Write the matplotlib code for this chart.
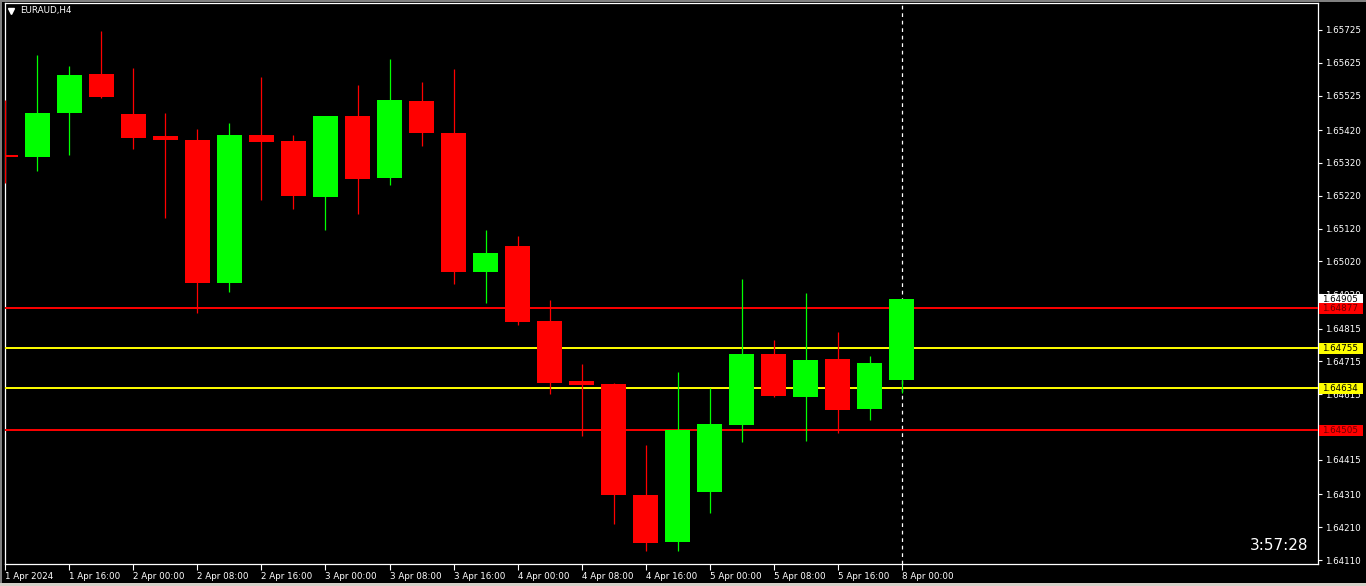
import matplotlib
matplotlib.use("Agg")
import matplotlib.pyplot as plt
from matplotlib.patches import Rectangle
from matplotlib.lines import Line2D
from matplotlib.transforms import blended_transform_factory
from matplotlib.ticker import FixedLocator, FixedFormatter

# ---- data (EURAUD, H4) ----
opens = [1.65344, 1.65338, 1.65472, 1.65591, 1.65469, 1.65402, 1.65390, 1.64954,
         1.65405, 1.65387, 1.65216, 1.65463, 1.65274, 1.65509, 1.65411, 1.64988,
         1.65067, 1.64838, 1.64655, 1.64646, 1.64308, 1.64165, 1.64317, 1.64521,
         1.64738, 1.64607, 1.64722, 1.64570, 1.64659]
highs = [1.65512, 1.65649, 1.65615, 1.65722, 1.65609, 1.65472, 1.65423, 1.65442,
         1.65582, 1.65405, 1.65463, 1.65557, 1.65637, 1.65567, 1.65606, 1.65116,
         1.65097, 1.64902, 1.64707, 1.64649, 1.64460, 1.64683, 1.64634, 1.64966,
         1.64780, 1.64924, 1.64805, 1.64732, 1.64905]
lows = [1.65259, 1.65295, 1.65344, 1.65518, 1.65362, 1.65152, 1.64863, 1.64927,
        1.65207, 1.65180, 1.65116, 1.65164, 1.65253, 1.65372, 1.64951, 1.64893,
        1.64826, 1.64616, 1.64488, 1.64220, 1.64137, 1.64137, 1.64253, 1.64470,
        1.64607, 1.64473, 1.64497, 1.64537, 1.64619]
closes = [1.65338, 1.65472, 1.65588, 1.65521, 1.65396, 1.65390, 1.64954, 1.65405,
          1.65384, 1.65219, 1.65463, 1.65271, 1.65512, 1.65411, 1.64988, 1.65045,
          1.64835, 1.64649, 1.64643, 1.64308, 1.64162, 1.64506, 1.64524, 1.64738,
          1.64610, 1.64719, 1.64567, 1.64710, 1.64905]

time_labels = ["1 Apr 2024", "1 Apr 16:00", "2 Apr 00:00", "2 Apr 08:00", "2 Apr 16:00",
               "3 Apr 00:00", "3 Apr 08:00", "3 Apr 16:00", "4 Apr 00:00", "4 Apr 08:00",
               "4 Apr 16:00", "5 Apr 00:00", "5 Apr 08:00", "5 Apr 16:00", "8 Apr 00:00"]
price_ticks = [1.65725, 1.65625, 1.65525, 1.65420, 1.65320, 1.65220, 1.65120, 1.65020,
               1.64920, 1.64815, 1.64715, 1.64615, 1.64415, 1.64310, 1.64210,
               1.64110]

red_levels = [1.64877, 1.64505]
yellow_levels = [1.64755, 1.64634]
bid_price = closes[-1]
separator_index = 28
symbol_title = "EURAUD,H4"
clock_text = "3:57:28"

# ---- figure ----
W, H = 1366, 586
fig = plt.figure(figsize=(W / 100, H / 100), dpi=100, facecolor="black")
ax = fig.add_axes([5 / W, 1 - 564 / H, (1318 - 5) / W, (564 - 3) / H])
ax.set_facecolor("black")

GREEN = "#00FF00"
RED = "#FF0000"
YELLOW = "#FFFF00"

n = len(opens)
for i in range(n):
    o, h, l, c = opens[i], highs[i], lows[i], closes[i]
    col = GREEN if c >= o else RED
    ax.vlines(i, l, h, color=col, lw=0.9, zorder=4)
    ax.bar(i, abs(c - o), bottom=min(o, c), width=0.78, color=col,
           linewidth=0, zorder=5)

for lv in red_levels:
    ax.axhline(lv, color=RED, lw=1.4, zorder=3)
for lv in yellow_levels:
    ax.axhline(lv, color=YELLOW, lw=1.4, zorder=3)

ax.axvline(separator_index, color="white", lw=0.9, ls=(0, (3, 3)), zorder=2)

YMIN, YMAX = 1.64098, 1.65807
ax.set_xlim(-0.01, 41.0)
ax.set_ylim(YMIN, YMAX)

# x axis
ax.xaxis.set_major_locator(FixedLocator(list(range(0, 2 * len(time_labels), 2))))
ax.xaxis.set_major_formatter(FixedFormatter(time_labels))
for lab in ax.get_xticklabels():
    lab.set_horizontalalignment("left")
ax.tick_params(axis="x", colors="white", length=4, width=0.8, pad=2, labelsize=6.3,
               direction="out")

# y axis (right)
ax.yaxis.tick_right()
ax.yaxis.set_major_locator(FixedLocator(price_ticks))
ax.yaxis.set_major_formatter(FixedFormatter([f"{p:.5f}" for p in price_ticks]))
ax.tick_params(axis="y", colors="white", length=3, width=0.8, pad=2, labelsize=6.3,
               direction="out")

for sp in ax.spines.values():
    sp.set_color("white")
    sp.set_linewidth(0.9)

# price labels on the right (boxes sized in pixels)
tr = blended_transform_factory(ax.transAxes, ax.transData)
ax_w_px = 1318 - 5
per_px = (YMAX - YMIN) / (564 - 3)
box_x0 = 1.0 + 1.0 / ax_w_px
box_w = 44.0 / ax_w_px
box_h = 11.0 * per_px


def price_box(val, face, txtcol, z):
    ax.add_patch(Rectangle((box_x0, val - box_h / 2), box_w, box_h, transform=tr,
                           facecolor=face, edgecolor="none", zorder=z, clip_on=False))
    ax.text(box_x0 + 3.0 / ax_w_px, val, f"{val:.5f}", transform=tr, ha="left",
            va="center", fontsize=6.3, color=txtcol, zorder=z + 0.5, clip_on=False)


price_box(bid_price, "white", "black", 10)
for lv in red_levels:
    price_box(lv, RED, "#6a0000", 11)
for lv in yellow_levels:
    price_box(lv, YELLOW, "black", 11)

# title & clock
fig.text(20 / W, 1 - 11 / H, symbol_title, color="white", fontsize=6.3,
         ha="left", va="center")
fig.add_artist(Line2D([11 / W], [1 - 11 / H], marker="v", markersize=4.5,
                      color="white", linestyle="none", transform=fig.transFigure))
fig.text(1308 / W, 1 - 545 / H, clock_text, color="white", fontsize=11,
         ha="right", va="center")

# window border strips
fig.add_artist(Rectangle((0, 1 - 2 / H), 1, 2 / H, transform=fig.transFigure,
                         facecolor="#808080", edgecolor="none"))
fig.add_artist(Rectangle((0, 0), 2 / W, 1, transform=fig.transFigure,
                         facecolor="#808080", edgecolor="none"))
fig.add_artist(Rectangle((0, 0), 1, 3 / H, transform=fig.transFigure,
                         facecolor="#d4d0c8", edgecolor="none"))

fig.savefig("out.png", dpi=100, facecolor="black")
